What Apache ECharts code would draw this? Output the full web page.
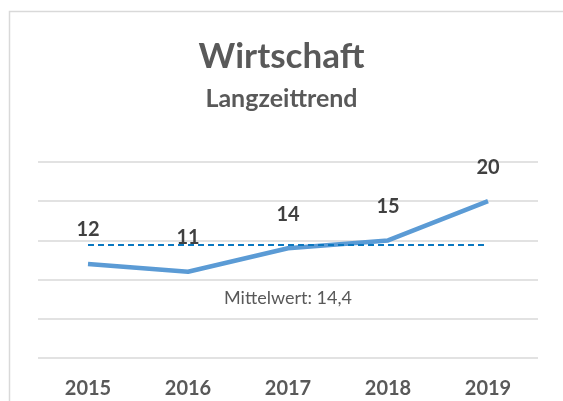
<!DOCTYPE html>
<html>
<head>
<meta charset="utf-8">
<script src="https://cdn.jsdelivr.net/npm/echarts@6/dist/echarts.min.js"></script>
<style>
    html, body { margin: 0; padding: 0; background: #fff; }
    #chart { width: 563px; height: 401px; }
</style>
</head>
<body>
<div id="chart"></div>
<script>
// Daten
var jahre = ["2015", "2016", "2017", "2018", "2019"];
var werte = [12, 11, 14, 15, 20];
var mittelwert = 14.4;

(function () {
    var myChart = echarts.init(document.getElementById("chart"));
    var schrift = "Lato, 'Open Sans', sans-serif";
    var option = {
        textStyle: { fontFamily: schrift },
        title: {
            text: "Wirtschaft",
            subtext: "Langzeittrend",
            left: "center",
            top: 34,
            itemGap: 12,
            textStyle: { color: "#595959", fontSize: 35, fontWeight: "bold", fontFamily: schrift },
            subtextStyle: { color: "#595959", fontSize: 25, fontWeight: "bold", fontFamily: schrift }
        },
        graphic: [{
            type: "rect",
            shape: { x: 9.5, y: 11.5, width: 700, height: 500 },
            style: { fill: "none", stroke: "#d9d9d9", lineWidth: 1.5 },
            silent: true
        }],
        grid: { left: 38, right: 25, top: 162, bottom: 43 },
        xAxis: {
            type: "category",
            data: jahre,
            axisLine: { show: false },
            axisTick: { show: false },
            axisLabel: { color: "#595959", fontSize: 20, fontWeight: "bold", margin: 21 }
        },
        yAxis: {
            type: "value",
            min: 0,
            max: 25,
            interval: 5,
            axisLabel: { show: false },
            axisLine: { show: false },
            axisTick: { show: false },
            splitLine: { lineStyle: { color: "#d9d9d9", width: 1.5 } }
        },
        series: [{
            type: "line",
            data: werte,
            symbol: "circle",
            symbolSize: 0,
            lineStyle: { color: "#5B9BD5", width: 4.5 },
            itemStyle: { color: "#5B9BD5" },
            label: {
                show: true,
                position: "top",
                distance: 24,
                color: "#404040",
                fontSize: 20,
                fontWeight: "bold"
            },
            markLine: {
                symbol: "none",
                silent: true,
                lineStyle: { color: "#0A78C0", type: [6, 4], width: 2 },
                label: {
                    show: true,
                    position: "middle",
                    formatter: "Mittelwert: " + String(mittelwert).replace(".", ","),
                    color: "#595959",
                    fontSize: 18,
                    distance: -62
                },
                data: [[
                    { coord: [jahre[0], mittelwert] },
                    { coord: [jahre[jahre.length - 1], mittelwert] }
                ]]
            }
        }]
    };
    myChart.setOption(option);
    window.addEventListener("resize", function () {
        myChart.resize();
    });
})();
</script>
</body>
</html>
